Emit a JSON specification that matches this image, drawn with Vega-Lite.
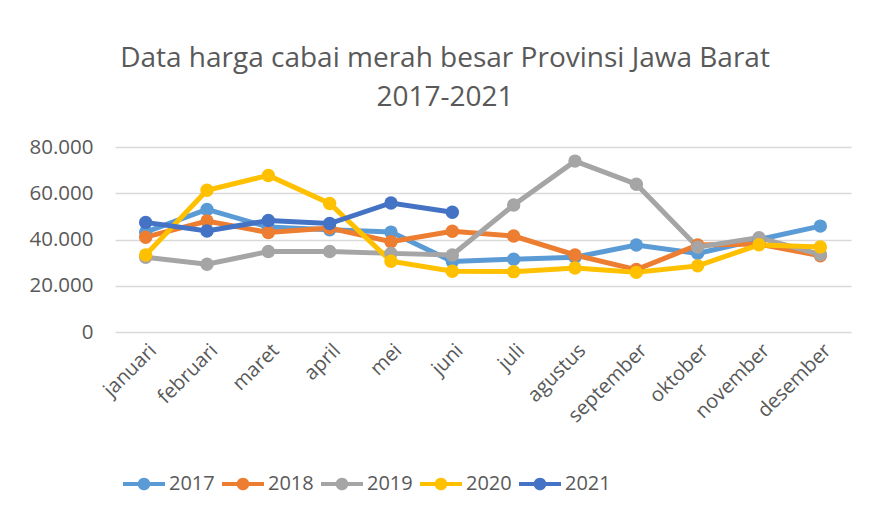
{
  "$schema": "https://vega.github.io/schema/vega-lite/v6.json",
  "width": 736,
  "height": 185,
  "autosize": "none",
  "padding": {"left": 115, "top": 147, "right": 20, "bottom": 186},
  "background": "white",
  "config": {
    "font": "Open Sans",
    "view": {"stroke": null}
  },
  "title": {
    "text": ["Data harga cabai merah besar Provinsi Jawa Barat", "2017-2021"],
    "fontSize": 28,
    "font": "Open Sans",
    "fontWeight": "normal",
    "color": "#595959",
    "anchor": "middle",
    "lineHeight": 39,
    "offset": 25,
    "dx": -38
  },
  "data": {
    "values": [
      {"bulan": "januari", "tahun": "2017", "harga": 43200},
      {"bulan": "februari", "tahun": "2017", "harga": 53000},
      {"bulan": "maret", "tahun": "2017", "harga": 45400},
      {"bulan": "april", "tahun": "2017", "harga": 44200},
      {"bulan": "mei", "tahun": "2017", "harga": 43200},
      {"bulan": "juni", "tahun": "2017", "harga": 30500},
      {"bulan": "juli", "tahun": "2017", "harga": 31500},
      {"bulan": "agustus", "tahun": "2017", "harga": 32300},
      {"bulan": "september", "tahun": "2017", "harga": 37600},
      {"bulan": "oktober", "tahun": "2017", "harga": 34000},
      {"bulan": "november", "tahun": "2017", "harga": 40000},
      {"bulan": "desember", "tahun": "2017", "harga": 45800},
      {"bulan": "januari", "tahun": "2018", "harga": 41000},
      {"bulan": "februari", "tahun": "2018", "harga": 48000},
      {"bulan": "maret", "tahun": "2018", "harga": 43000},
      {"bulan": "april", "tahun": "2018", "harga": 45000},
      {"bulan": "mei", "tahun": "2018", "harga": 39000},
      {"bulan": "juni", "tahun": "2018", "harga": 43600},
      {"bulan": "juli", "tahun": "2018", "harga": 41500},
      {"bulan": "agustus", "tahun": "2018", "harga": 33300},
      {"bulan": "september", "tahun": "2018", "harga": 27000},
      {"bulan": "oktober", "tahun": "2018", "harga": 37600},
      {"bulan": "november", "tahun": "2018", "harga": 38000},
      {"bulan": "desember", "tahun": "2018", "harga": 33000},
      {"bulan": "januari", "tahun": "2019", "harga": 32300},
      {"bulan": "februari", "tahun": "2019", "harga": 29300},
      {"bulan": "maret", "tahun": "2019", "harga": 34800},
      {"bulan": "april", "tahun": "2019", "harga": 34800},
      {"bulan": "mei", "tahun": "2019", "harga": 34000},
      {"bulan": "juni", "tahun": "2019", "harga": 33300},
      {"bulan": "juli", "tahun": "2019", "harga": 54900},
      {"bulan": "agustus", "tahun": "2019", "harga": 73900},
      {"bulan": "september", "tahun": "2019", "harga": 63900},
      {"bulan": "oktober", "tahun": "2019", "harga": 36700},
      {"bulan": "november", "tahun": "2019", "harga": 40800},
      {"bulan": "desember", "tahun": "2019", "harga": 33500},
      {"bulan": "januari", "tahun": "2020", "harga": 33300},
      {"bulan": "februari", "tahun": "2020", "harga": 61300},
      {"bulan": "maret", "tahun": "2020", "harga": 67700},
      {"bulan": "april", "tahun": "2020", "harga": 55600},
      {"bulan": "mei", "tahun": "2020", "harga": 30600},
      {"bulan": "juni", "tahun": "2020", "harga": 26300},
      {"bulan": "juli", "tahun": "2020", "harga": 26100},
      {"bulan": "agustus", "tahun": "2020", "harga": 27700},
      {"bulan": "september", "tahun": "2020", "harga": 25800},
      {"bulan": "oktober", "tahun": "2020", "harga": 28600},
      {"bulan": "november", "tahun": "2020", "harga": 37700},
      {"bulan": "desember", "tahun": "2020", "harga": 36800},
      {"bulan": "januari", "tahun": "2021", "harga": 47400},
      {"bulan": "februari", "tahun": "2021", "harga": 43700},
      {"bulan": "maret", "tahun": "2021", "harga": 48200},
      {"bulan": "april", "tahun": "2021", "harga": 46900},
      {"bulan": "mei", "tahun": "2021", "harga": 55800},
      {"bulan": "juni", "tahun": "2021", "harga": 51800}
    ]
  },
  "mark": {"type": "line", "strokeWidth": 5, "point": {"filled": true, "size": 180, "opacity": 1}},
  "encoding": {
    "x": {
      "field": "bulan",
      "type": "ordinal",
      "sort": ["januari", "februari", "maret", "april", "mei", "juni", "juli", "agustus", "september", "oktober", "november", "desember"],
      "scale": {"type": "point", "padding": 0.5},
      "axis": {
        "title": null,
        "labelAngle": -45,
        "labelFontSize": 20,
        "labelColor": "#595959",
        "labelPadding": 8,
        "ticks": false,
        "domain": false,
        "grid": false
      }
    },
    "y": {
      "field": "harga",
      "type": "quantitative",
      "scale": {"domain": [0, 80000]},
      "axis": {
        "title": null,
        "values": [0, 20000, 40000, 60000, 80000],
        "labelExpr": "replace(format(datum.value, ','), ',', '.')",
        "labelFontSize": 20.5,
        "labelColor": "#595959",
        "labelPadding": 22,
        "ticks": false,
        "domain": false,
        "grid": true,
        "gridColor": "#D9D9D9",
        "gridWidth": 1.3
      }
    },
    "color": {
      "field": "tahun",
      "type": "nominal",
      "scale": {
        "domain": ["2017", "2018", "2019", "2020", "2021"],
        "range": ["#5B9BD5", "#ED7D31", "#A5A5A5", "#FFC000", "#4472C4"]
      },
      "legend": {
        "title": null,
        "orient": "none",
        "direction": "horizontal",
        "columns": 5,
        "legendX": 8,
        "legendY": 316,
        "symbolType": "M-1,-0.1L1,-0.1L1,0.1L-1,0.1Z M-0.3,0A0.3,0.3 0 1,1 0.3,0A0.3,0.3 0 1,1 -0.3,0Z",
        "symbolSize": 1764,
        "symbolStrokeWidth": 0,
        "symbolOpacity": 1,
        "labelFontSize": 20,
        "labelColor": "#595959",
        "labelOffset": 4,
        "columnPadding": 7
      }
    }
  }
}
